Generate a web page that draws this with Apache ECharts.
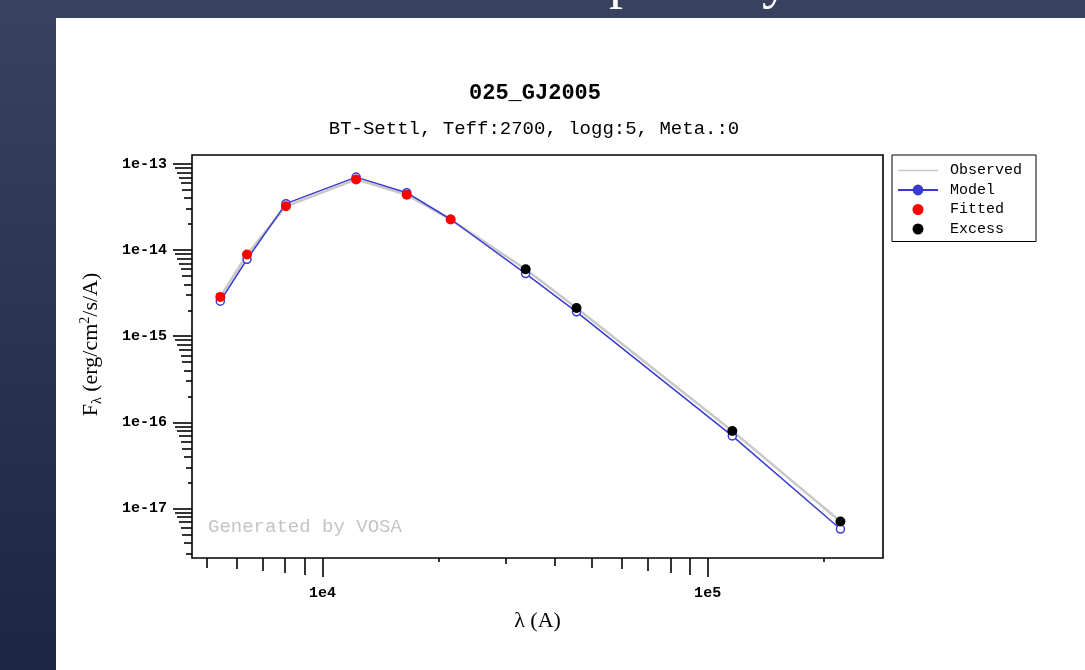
<!DOCTYPE html>
<html>
<head>
<meta charset="utf-8">
<script src="https://cdn.jsdelivr.net/npm/echarts@6/dist/echarts.min.js"></script>
<style>
html,body{margin:0;padding:0;background:#fff;}
#chart{width:1085px;height:670px;}
</style>
</head>
<body>
<div id="chart"></div>
<script>
// ---- data ----
const wavelength   = [5430, 6370, 8040, 12230, 16550, 21520, 33690, 45660, 115900, 221200];
const observedFlux = [2.86e-15, 8.87e-15, 3.22e-14, 6.61e-14, 4.39e-14, 2.26e-14, 5.99e-15, 2.13e-15, 7.95e-17, 7.07e-18];
const modelFlux    = [2.55e-15, 7.82e-15, 3.46e-14, 7.03e-14, 4.64e-14, 2.28e-14, 5.34e-15, 1.92e-15, 6.96e-17, 5.77e-18];
const pointKind    = ['fit','fit','fit','fit','fit','fit','excess','excess','excess','excess'];
const xMajorTicks  = [1e4, 1e5];
const yMajorTicks  = [1e-17, 1e-16, 1e-15, 1e-14, 1e-13];
const X_MIN = 4585, X_MAX = 285300;
const Y_MIN = 2.66e-18, Y_MAX = 1.27e-13;
const titleText = '025_GJ2005';
const subtitleText = 'BT-Settl, Teff:2700, logg:5, Meta.:0';

// ---- build options ----
const MONO = '"Liberation Mono", "DejaVu Sans Mono", monospace';
const SERIF = '"Liberation Serif", "DejaVu Serif", serif';
const tickLen = {1: 19, 2: 4, 3: 6, 4: 8, 5: 10, 6: 11, 7: 13, 8: 15, 9: 17};
const GRID = {left: 192, top: 155, width: 691, height: 403};

const pairs = (ys, kind) => wavelength.map((x, i) => [x, ys[i]]).filter((d, i) => !kind || pointKind[i] === kind);

const xAxes = [{
  type: 'log', min: X_MIN, max: X_MAX, position: 'bottom', gridIndex: 0,
  axisLine: {show: false},
  splitLine: {show: false},
  axisTick: {show: true, customValues: xMajorTicks, length: tickLen[1], lineStyle: {color: '#000', width: 1.6}},
  axisLabel: {show: true, customValues: xMajorTicks, margin: 28, color: '#000',
    fontFamily: MONO, fontSize: 15, fontWeight: 'bold',
    formatter: v => '1e' + Math.round(Math.log10(v))},
  name: 'λ (A)', nameLocation: 'middle', nameGap: 52,
  nameTextStyle: {fontFamily: SERIF, fontSize: 22, color: '#000'}
}];
const yAxes = [{
  type: 'log', min: Y_MIN, max: Y_MAX, position: 'left', gridIndex: 0,
  axisLine: {show: false},
  splitLine: {show: false},
  axisTick: {show: true, customValues: yMajorTicks, length: tickLen[1], lineStyle: {color: '#000', width: 1.6}},
  axisLabel: {show: true, customValues: yMajorTicks, margin: 25, color: '#000',
    fontFamily: MONO, fontSize: 15, fontWeight: 'bold',
    formatter: v => '1e' + Math.round(Math.log10(v))},
  name: '{n|F}{s|λ}{n| (erg/cm}{p|2}{n|/s/A)}', nameLocation: 'middle', nameGap: 88,
  nameTextStyle: {
    padding: [0, 0, 0, 24],
    rich: {
      n: {fontFamily: SERIF, fontSize: 22, color: '#000', lineHeight: 26, verticalAlign: 'middle'},
      s: {fontFamily: SERIF, fontSize: 14, color: '#000', lineHeight: 26, verticalAlign: 'bottom'},
      p: {fontFamily: SERIF, fontSize: 14, color: '#000', lineHeight: 26, verticalAlign: 'top'}
    }
  }
}];
for (let m = 2; m <= 9; m++) {
  const xs = [m * 1e3, m * 1e4, m * 1e5].filter(v => v >= X_MIN && v <= X_MAX);
  xAxes.push({
    type: 'log', min: X_MIN, max: X_MAX, position: 'bottom', gridIndex: 0,
    axisLine: {show: false}, splitLine: {show: false}, axisLabel: {show: false},
    axisTick: {show: true, customValues: xs, length: tickLen[m], lineStyle: {color: '#000', width: 1.6}}
  });
  const ys = [];
  for (let e = -18; e <= -14; e++) ys.push(m * Math.pow(10, e));
  yAxes.push({
    type: 'log', min: Y_MIN, max: Y_MAX, position: 'left', gridIndex: 0,
    axisLine: {show: false}, splitLine: {show: false}, axisLabel: {show: false},
    axisTick: {show: true, customValues: ys.filter(v => v >= Y_MIN && v <= Y_MAX), length: tickLen[m], lineStyle: {color: '#000', width: 1.6}}
  });
}

const BLUE = '#3a3ad0';
const option = {
  animation: false,
  backgroundColor: '#fff',
  title: [
    {text: titleText, left: 535, top: 82, textAlign: 'center', padding: 0,
     textStyle: {fontFamily: MONO, fontSize: 22, fontWeight: 'bold', color: '#000'}},
    {text: subtitleText, left: 534, top: 119, textAlign: 'center', padding: 0,
     textStyle: {fontFamily: MONO, fontSize: 19, fontWeight: 'normal', color: '#000'}}
  ],
  legend: {
    orient: 'vertical', left: 892, top: 155,
    padding: [8, 14, 5, 5],
    borderColor: '#000', borderWidth: 1,
    itemWidth: 40, itemHeight: 11, itemGap: 4.5,
    textStyle: {fontFamily: MONO, fontSize: 15, color: '#000', padding: [0, 0, 0, 7]},
    data: [
      {name: 'Observed', icon: 'path://M0,0L40,0L40,1.5L0,1.5Z', itemStyle: {color: '#c8c8c8'}},
      {name: 'Model', itemStyle: {color: BLUE, borderColor: BLUE}},
      {name: 'Fitted'},
      {name: 'Excess'}
    ]
  },
  grid: Object.assign({show: true, borderColor: '#000', borderWidth: 1.6, backgroundColor: 'transparent'}, GRID),
  xAxis: xAxes,
  yAxis: yAxes,
  graphic: [
    {type: 'rect', z: -10, silent: true, shape: {x: 0, y: 0, width: 1085, height: 670},
     style: {fill: new echarts.graphic.LinearGradient(0, 0, 0, 1, [
       {offset: 0, color: '#39435f'}, {offset: 1, color: '#1b2643'}])}},
    {type: 'rect', z: -9, silent: true, shape: {x: 56, y: 18, width: 1029, height: 652}, style: {fill: '#fff'}},
    {type: 'text', z: -8, silent: true, x: 609, y: 10,
     style: {text: 'p', fontFamily: SERIF, fontSize: 56, fill: '#fff', verticalAlign: 'bottom'}},
    {type: 'text', z: -8, silent: true, x: 762, y: 10,
     style: {text: 'y', fontFamily: SERIF, fontSize: 56, fill: '#fff', verticalAlign: 'bottom'}},
    {type: 'text', silent: true, x: 208, y: 527,
     style: {text: 'Generated by VOSA', fontFamily: MONO, fontSize: 19, fill: '#c4c4c4', verticalAlign: 'middle'}}
  ],
  series: [
    {name: 'Observed', type: 'line', data: pairs(observedFlux), symbol: 'none', z: 1,
     lineStyle: {color: '#c8c8c8', width: 2.5}, itemStyle: {color: '#c8c8c8'}},
    {name: 'Model', type: 'line', data: pairs(modelFlux), symbol: 'circle', symbolSize: 8, z: 2,
     lineStyle: {color: BLUE, width: 1.5}, itemStyle: {color: '#fff', borderColor: BLUE, borderWidth: 1.5}},
    {name: 'Fitted', type: 'scatter', data: pairs(observedFlux, 'fit'), symbol: 'circle', symbolSize: 10, z: 3,
     itemStyle: {color: '#ff0000', opacity: 1}},
    {name: 'Excess', type: 'scatter', data: pairs(observedFlux, 'excess'), symbol: 'circle', symbolSize: 10, z: 3,
     itemStyle: {color: '#000', opacity: 1}}
  ]
};
const chart = echarts.init(document.getElementById('chart'), null, {renderer: 'canvas'});
chart.setOption(option);
</script>
</body>
</html>
